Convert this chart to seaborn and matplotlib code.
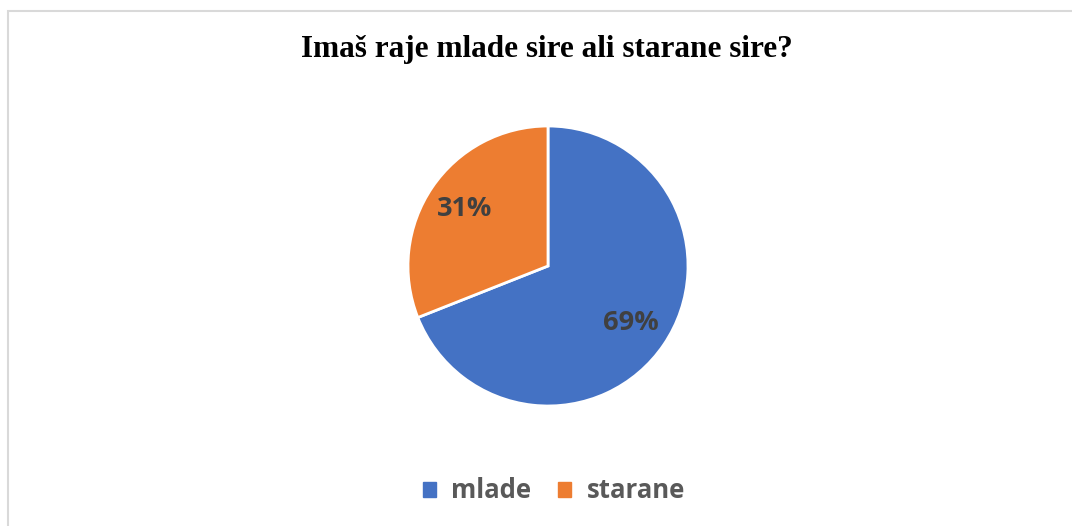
import matplotlib
matplotlib.use("Agg")
import matplotlib.pyplot as plt
import matplotlib.patches as mpatches
import seaborn as sns

# Data
CATEGORIES = ["mlade", "starane"]
SHARES = [69, 31]
COLORS = ["#4472C4", "#ED7D31"]
TITLE = "Imaš raje mlade sire ali starane sire?"

sns.set_theme(style="white")
plt.rcParams["font.family"] = ["Open Sans", "DejaVu Sans"]

fig = plt.figure(figsize=(10.72, 5.26), dpi=100)
fig.patch.set_facecolor("white")

# light gray frame (top and left edges visible in the reference)
frame = mpatches.Rectangle((8 / 1072, -0.1), 1.2, 1 - 10.5 / 526 + 0.1,
                           transform=fig.transFigure, fill=False,
                           edgecolor="#D9D9D9", linewidth=1.5)
fig.patches.append(frame)

# pie: centre (548, 266) px, radius 140 px
cx, cy, r = 548 / 1072, 1 - 266 / 526, 140
ax = fig.add_axes([cx - r / 1072, cy - r / 526, 2 * r / 1072, 2 * r / 526])

wedges, texts, autotexts = ax.pie(
    SHARES,
    colors=sns.color_palette(COLORS),
    startangle=90,
    counterclock=False,
    autopct="%1.0f%%",
    pctdistance=0.72,
    wedgeprops=dict(edgecolor="white", linewidth=2),
    textprops=dict(color="#404040", fontsize=19.5, fontweight="bold"),
)
ax.set_aspect("equal")
ax.set_xlim(-1, 1)
ax.set_ylim(-1, 1)

fig.text(547 / 1072, 1 - 50 / 526, TITLE, ha="center", va="center",
         fontsize=22.5, fontweight="bold", family="Liberation Serif", color="black")

handles = [mpatches.Patch(color=c, label=l) for c, l in zip(COLORS, CATEGORIES)]
leg = fig.legend(handles=handles, loc="center", bbox_to_anchor=(554 / 1072, 1 - 491 / 526),
                 ncol=2, frameon=False, handlelength=0.5, handleheight=0.5,
                 handletextpad=0.6, columnspacing=1.05,
                 prop=dict(size=18.5, weight="bold"))
for t in leg.get_texts():
    t.set_color("#595959")

fig.savefig("out.png", dpi=100, facecolor="white")
